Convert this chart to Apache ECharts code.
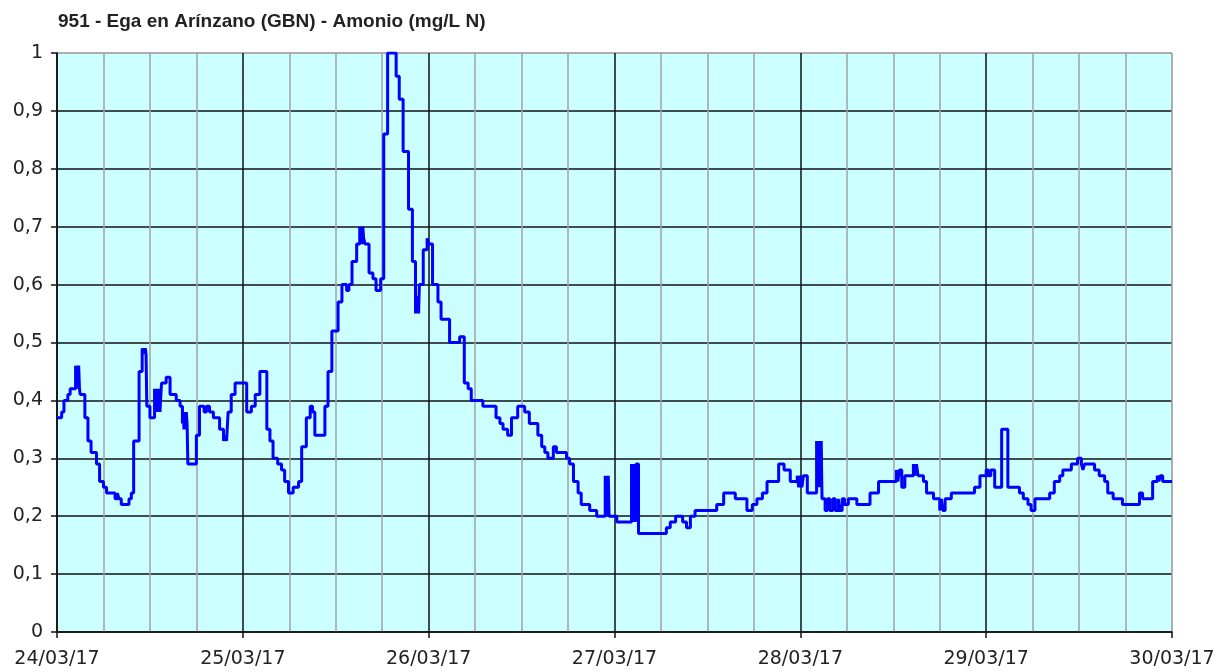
<!DOCTYPE html>
<html>
<head>
<meta charset="utf-8">
<title>Amonio - Ega en Arínzano</title>
<script src="https://cdn.jsdelivr.net/npm/echarts@6/dist/echarts.min.js"></script>
<style>
    html, body { margin: 0; padding: 0; background: #fff; }
    #chart { width: 1229px; height: 672px; }
</style>
</head>
<body>
<div id="chart"></div>
<script>
// Etiquetas de los días (una cada 24 h)
var dayLabels = ['24/03/17', '25/03/17', '26/03/17', '27/03/17', '28/03/17', '29/03/17', '30/03/17'];
// Etiquetas del eje Y
var yLabels = ['0', '0,1', '0,2', '0,3', '0,4', '0,5', '0,6', '0,7', '0,8', '0,9', '1'];

// Horas desde el 24/03/17 00:00 en que cambia la medida
var hours = [
    0, 0.6, 0.9, 1.4, 1.7, 2.4, 2.5, 2.6, 2.7, 2.8, 2.9, 3.0, 3.6, 4.0, 4.4, 5.1, 5.5, 6.0, 6.4,
    7.5, 7.8, 8.0, 8.3, 9.3, 9.6, 9.9, 10.6, 11.0, 11.1, 11.2, 11.3, 11.4, 11.5, 11.6, 12.0,
    12.6, 12.7, 12.8, 12.9, 13.0, 13.1, 13.2, 13.3, 13.5, 14.1, 14.6, 15.4, 15.9,
    16.2, 16.3, 16.4, 16.5, 16.6, 16.7, 16.8,
    16.9, 18.0, 18.4, 19.0, 19.3, 19.7, 20.2, 21.0, 21.5, 21.6, 21.7, 21.8, 21.9, 22.1, 22.5, 23.0,
    24.5, 25.1, 25.6, 26.2, 27.1, 27.5, 27.9, 28.5, 29.0, 29.4, 29.9, 30.5, 31.2, 31.6,
    32.2, 32.7, 33.0, 33.3, 34.6, 35.0, 35.5, 36.3, 36.8, 37.4, 37.7, 38.1, 38.7,
    39.1, 39.2, 39.3, 39.4, 39.5, 39.6, 39.8, 40.3, 40.8, 41.2, 41.8, 42.2, 42.7, 43.8, 44.2, 44.7,
    45.4, 45.9, 46.3, 46.4, 46.5, 46.6, 46.7, 46.8, 47.3, 47.8, 48.0, 48.5, 49.2, 49.6, 50.7, 52.0,
    52.6, 53.1, 53.5, 55.0, 56.7, 57.2, 57.6, 58.2, 58.7, 59.5, 60.4, 61.0, 62.1, 62.6,
    63.0, 63.4, 64.1, 64.5, 65.8, 66.2, 66.7, 67.3, 67.7, 68.8, 69.7,
    70.8, 70.9, 71.0, 71.1, 71.2, 71.3, 72.3,
    74.2, 74.3, 74.4, 74.5, 74.6, 74.7, 74.8, 75.1,
    78.7, 79.2, 79.9, 80.8, 81.3, 81.8, 82.4, 85.2, 86.1, 87.6, 89.1, 89.8, 90.4, 91.1,
    91.7, 93.2, 93.9, 94.7, 95.6, 95.8, 96.0, 96.2, 96.4, 96.9,
    98.1, 98.2, 98.3, 98.4, 98.5, 98.6, 98.7, 98.8, 99.2, 99.5, 99.8, 100.2, 100.5, 100.9, 101.1,
    101.4, 101.7, 102.2, 103.3, 105.0, 106.1, 108.4, 108.6, 108.8, 109.1, 109.5,
    110.6, 110.8, 111.0, 111.2, 111.9, 112.3, 113.2, 114.0, 114.2, 114.4, 114.7, 115.5,
    118.5, 119.2, 120.0, 120.3, 120.6, 121.1, 122.0, 122.8, 124.3, 124.8, 125.4, 125.8,
    126.3, 128.2, 128.8, 129.5, 129.9, 131.0, 131.8, 132.3, 132.5, 132.7, 132.9, 134.0,
    134.6, 135.3, 135.7, 136.4, 137.6, 139.8, 140.2, 141.5, 142.1, 142.3, 142.5, 142.8, 144
];
// Amonio (mg/L N) a partir de cada instante anterior
var values = [
    0.37, 0.38, 0.40, 0.41, 0.42, 0.46, 0.42, 0.46, 0.42, 0.46, 0.42, 0.41, 0.37, 0.33, 0.31, 0.29, 0.26, 0.25, 0.24,
    0.23, 0.24, 0.23, 0.22, 0.23, 0.24, 0.33, 0.45, 0.49, 0.48, 0.49, 0.48, 0.49, 0.48, 0.39, 0.37,
    0.42, 0.38, 0.42, 0.38, 0.42, 0.38, 0.42, 0.38, 0.43, 0.44, 0.41, 0.40, 0.39,
    0.36, 0.38, 0.35, 0.38, 0.35, 0.38, 0.36,
    0.29, 0.34, 0.39, 0.38, 0.39, 0.38, 0.37, 0.35, 0.33, 0.34, 0.33, 0.34, 0.33, 0.38, 0.41, 0.43,
    0.38, 0.39, 0.41, 0.45, 0.35, 0.33, 0.30, 0.29, 0.28, 0.26, 0.24, 0.25, 0.26, 0.32,
    0.37, 0.39, 0.38, 0.34, 0.39, 0.45, 0.52, 0.57, 0.60, 0.59, 0.60, 0.64, 0.67,
    0.70, 0.67, 0.70, 0.67, 0.70, 0.68, 0.67, 0.62, 0.61, 0.59, 0.61, 0.86, 1.00, 0.96, 0.92, 0.83,
    0.73, 0.64, 0.55, 0.58, 0.55, 0.58, 0.55, 0.60, 0.66, 0.68, 0.67, 0.60, 0.57, 0.54, 0.50, 0.51,
    0.43, 0.42, 0.40, 0.39, 0.37, 0.36, 0.35, 0.34, 0.37, 0.39, 0.38, 0.36, 0.34, 0.32,
    0.31, 0.30, 0.32, 0.31, 0.30, 0.29, 0.26, 0.24, 0.22, 0.21, 0.20,
    0.27, 0.20, 0.27, 0.20, 0.27, 0.20, 0.19,
    0.29, 0.19, 0.29, 0.19, 0.29, 0.19, 0.29, 0.17,
    0.18, 0.19, 0.20, 0.19, 0.18, 0.20, 0.21, 0.22, 0.24, 0.23, 0.21, 0.22, 0.23, 0.24,
    0.26, 0.29, 0.28, 0.26, 0.27, 0.25, 0.27, 0.25, 0.27, 0.24,
    0.33, 0.25, 0.33, 0.25, 0.33, 0.25, 0.33, 0.23, 0.21, 0.23, 0.21, 0.23, 0.21, 0.23, 0.21,
    0.23, 0.22, 0.23, 0.22, 0.24, 0.26, 0.28, 0.26, 0.28, 0.25, 0.27,
    0.29, 0.27, 0.29, 0.27, 0.26, 0.24, 0.23, 0.21, 0.23, 0.21, 0.23, 0.24,
    0.25, 0.27, 0.28, 0.27, 0.28, 0.25, 0.35, 0.25, 0.24, 0.23, 0.22, 0.21,
    0.23, 0.24, 0.26, 0.27, 0.28, 0.29, 0.30, 0.29, 0.28, 0.29, 0.29, 0.28,
    0.27, 0.26, 0.24, 0.23, 0.22, 0.24, 0.23, 0.26, 0.27, 0.26, 0.27, 0.26, 0.26
];

var chart = echarts.init(document.getElementById('chart'));

var seriesData = hours.map(function (h, i) { return [h, values[i]]; });

var black = '#111111';
var gray = '#a3a3a3';
var option = {
    animation: false,
    backgroundColor: '#ffffff',
    title: {
        text: '951 - Ega en Arínzano (GBN) - Amonio (mg/L N)',
        left: 53,
        top: 7,
        textStyle: {
            fontFamily: 'Liberation Sans, Arial, sans-serif',
            fontWeight: 'bold',
            fontSize: 19,
            color: '#222222'
        }
    },
    grid: {
        left: 57,
        right: 57,
        top: 53,
        bottom: 40,
        show: true,
        backgroundColor: '#ccffff',
        borderColor: gray,
        borderWidth: 1
    },
    xAxis: {
        type: 'value',
        min: 0,
        max: 144,
        interval: 24,
        axisLine: { show: true, lineStyle: { color: black, width: 1.5 } },
        axisTick: { show: true, length: 6, lineStyle: { color: black, width: 1.5 } },
        axisLabel: {
            margin: 18,
            fontFamily: 'DejaVu Sans, Verdana, sans-serif',
            fontSize: 19,
            color: '#222222',
            formatter: function (v) { return dayLabels[Math.round(v / 24)]; }
        },
        splitLine: {
            show: true,
            lineStyle: { color: [black, black, black, black, black, black, gray], width: 1.5 }
        },
        minorTick: { show: false, splitNumber: 4 },
        minorSplitLine: { show: true, lineStyle: { color: gray, width: 1.5 } }
    },
    yAxis: {
        type: 'value',
        min: 0,
        max: 1,
        interval: 0.1,
        axisLine: { show: true, lineStyle: { color: black, width: 1.5 } },
        axisTick: { show: true, length: 6, lineStyle: { color: black, width: 1.5 } },
        axisLabel: {
            margin: 14,
            fontFamily: 'DejaVu Sans, Verdana, sans-serif',
            fontSize: 19,
            color: '#222222',
            formatter: function (v) { return yLabels[Math.round(v * 10)]; }
        },
        splitLine: {
            show: true,
            lineStyle: {
                color: [black, black, black, black, black, black, black, black, black, black, gray],
                width: 1.5
            }
        }
    },
    series: [
        {
            name: 'Amonio',
            type: 'line',
            step: 'end',
            data: seriesData,
            showSymbol: false,
            symbol: 'none',
            clip: true,
            lineStyle: { color: '#0000ff', width: 3 },
            itemStyle: { color: '#0000ff' }
        }
    ]
};
chart.setOption(option);
</script>
</body>
</html>
